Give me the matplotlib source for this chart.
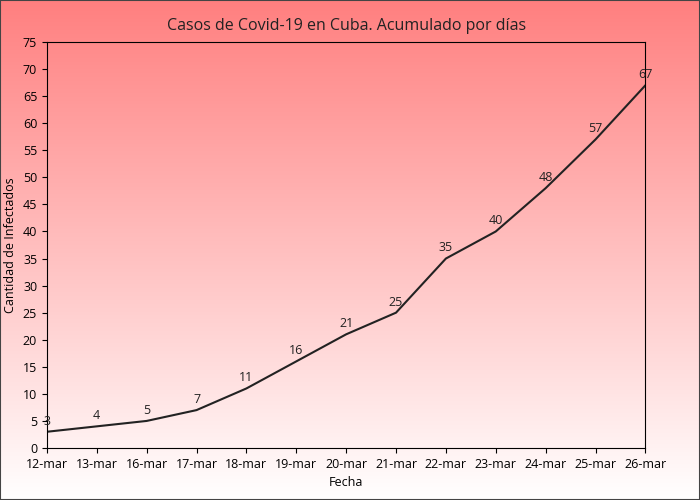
import matplotlib
matplotlib.use('Agg')
import matplotlib.pyplot as plt
import numpy as np

plt.rcParams['font.family'] = ['Open Sans', 'DejaVu Sans']

fechas = ['12-mar', '13-mar', '16-mar', '17-mar', '18-mar', '19-mar', '20-mar',
          '21-mar', '22-mar', '23-mar', '24-mar', '25-mar', '26-mar']
casos = [3, 4, 5, 7, 11, 16, 21, 25, 35, 40, 48, 57, 67]

fig = plt.figure(figsize=(7, 5), dpi=100)

# gradient background over the whole figure
bg = fig.add_axes([0, 0, 1, 1], zorder=-10)
t = np.linspace(0, 1, 256).reshape(-1, 1)
top = np.array([1.0, 0.5, 0.5])
grad = top + (1 - top) * t[:, :, None] * np.ones((1, 1, 3))
grad = np.clip(grad * np.ones((256, 2, 3)), 0, 1)
bg.imshow(grad, aspect='auto', extent=[0, 1, 0, 1])
bg.axis('off')
for s in ['left', 'right', 'top', 'bottom']:
    pass
fig.patches.append(plt.Rectangle((0, 0), 1, 1, transform=fig.transFigure,
                                 fill=False, edgecolor='#444444', lw=1.5))

ax = fig.add_axes([0.067, 0.104, 0.855, 0.812])
ax.patch.set_alpha(0)
x = np.arange(len(fechas))
ax.plot(x, casos, color='#222222', lw=1.5)
for xi, v in zip(x, casos):
    ax.annotate(str(v), (xi, v), xytext=(0, 3), textcoords='offset points',
                ha='center', va='bottom', fontsize=9, color='#222222')
ax.set_xlim(0, len(fechas) - 1)
ax.set_ylim(0, 75)
ax.set_yticks(range(0, 80, 5))
ax.set_xticks(x)
ax.set_xticklabels(fechas)
ax.tick_params(labelsize=9, colors='black')
ax.set_xlabel('Fecha', fontsize=9)
ax.set_ylabel('Cantidad de Infectados', fontsize=9)
ax.set_title('Casos de Covid-19 en Cuba. Acumulado por días', fontsize=11.5, pad=9, color='#222222')

fig.savefig('out.png', dpi=100)
